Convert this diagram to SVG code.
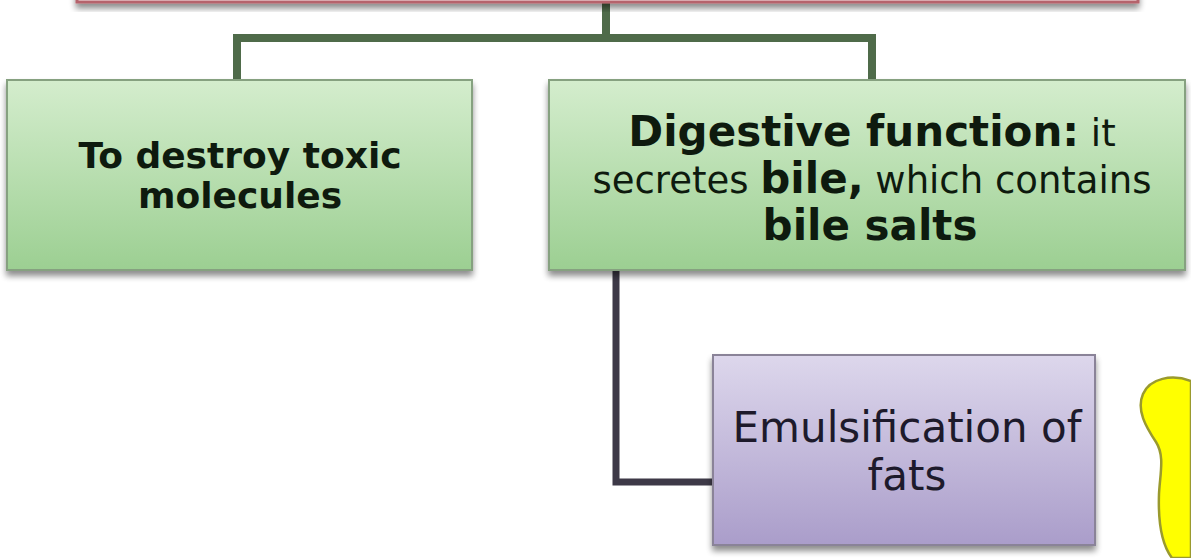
<svg xmlns="http://www.w3.org/2000/svg" width="1191" height="558" viewBox="0 0 1191 558">
<defs>
<linearGradient id="gGreen" x1="0" y1="0" x2="0" y2="1">
<stop offset="0" stop-color="#d4edcd"/>
<stop offset="1" stop-color="#9ccf92"/>
</linearGradient>
<linearGradient id="gPurple" x1="0" y1="0" x2="0" y2="1">
<stop offset="0" stop-color="#ddd7ec"/>
<stop offset="1" stop-color="#aa9dca"/>
</linearGradient>
<filter id="shadow" x="-5%" y="-10%" width="110%" height="125%">
<feGaussianBlur in="SourceAlpha" stdDeviation="3"/>
<feOffset dx="0" dy="5" result="b"/>
<feComponentTransfer><feFuncA type="linear" slope="0.45"/></feComponentTransfer>
<feMerge><feMergeNode/><feMergeNode in="SourceGraphic"/></feMerge>
</filter>
</defs>
<style>
.green{fill:url(#gGreen);stroke:#86a180;stroke-width:2}
.purple{fill:url(#gPurple);stroke:#8a8398;stroke-width:2}
.top{fill:#fbeff0;stroke:#b5636c;stroke-width:3}
.gt{font-family:"DejaVu Sans","Verdana",sans-serif;fill:#0e1a0e;text-anchor:middle}
.pt{font-family:"DejaVu Sans","Verdana",sans-serif;fill:#1d1a2b;text-anchor:middle;font-size:42px}
.b{font-weight:bold}
.cg{fill:none;stroke:#4f6b4a;stroke-width:8}
.cp{fill:none;stroke:#3d3947;stroke-width:7}
</style>
<rect width="1191" height="558" fill="#ffffff"/>
<g id="connectors">
<path class="cg" d="M606,0 V38 M237,80 V38 H872 V80"/>
<path class="cp" d="M616,270 V482 H713"/>
</g>
<g id="node-top">
<rect class="top" x="77" y="-60" width="1061" height="62" filter="url(#shadow)"/>
</g>
<g id="node-toxic">
<rect class="green" x="7" y="80" width="465" height="190" filter="url(#shadow)"/>
<text class="gt b" font-size="36" x="240" y="168">To destroy toxic</text>
<text class="gt b" font-size="36" x="240" y="208">molecules</text>
</g>
<g id="node-digestive">
<rect class="green" x="549" y="80" width="636" height="190" filter="url(#shadow)"/>
<text class="gt" x="872" y="146"><tspan class="b" font-size="42">Digestive function:</tspan><tspan font-size="37"> it</tspan></text>
<text class="gt" x="872" y="193" font-size="37">secretes <tspan class="b" font-size="42">bile,</tspan> which contains</text>
<text class="gt b" x="870" y="240" font-size="42">bile salts</text>
</g>
<g id="node-emulsification">
<rect class="purple" x="713" y="355" width="382" height="190" filter="url(#shadow)"/>
<text class="pt" x="907" y="442">Emulsification of</text>
<text class="pt" x="907" y="490">fats</text>
</g>
<g id="yellow-shape">
<path d="M1191,381 C1172,374 1150,378 1143,394 C1136,410 1146,427 1156,442 C1165,456 1160,474 1159,494 C1158,522 1162,545 1172,558 L1191,558 Z" fill="#ffff00" stroke="#9a9a2e" stroke-width="2.5"/>
</g>
</svg>
